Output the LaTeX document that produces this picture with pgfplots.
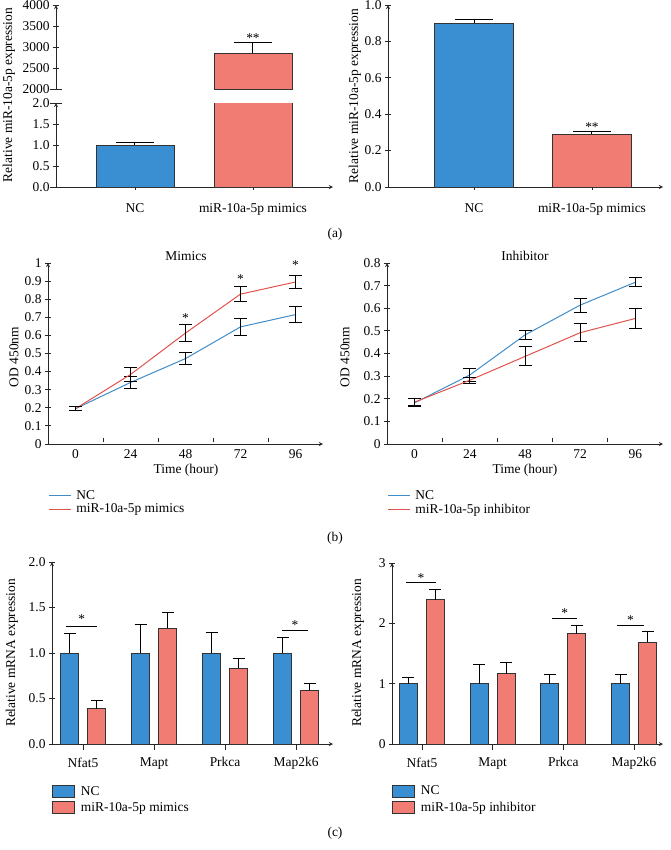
\documentclass[border=0pt]{standalone}
\usepackage{pgfplots}
\pgfplotsset{compat=1.18}
\usepackage{fontspec}
\setmainfont{Liberation Serif}
\definecolor{barblue}{HTML}{3A8ED2}
\definecolor{barred}{HTML}{F17C74}
\definecolor{lineblue}{HTML}{3F8CC8}
\definecolor{linered}{HTML}{E0524C}
\definecolor{edge}{HTML}{333333}
\newcommand{\fs}{\fontsize{13.5}{15}\selectfont}
\pgfplotsset{
  base/.style={
    scale only axis, anchor=south west,
    font=\fs,
    /pgf/number format/assume math mode=true,
    axis line style={-, line width=0.9pt, black!85},
    tick style={line width=0.9pt, black!85},
    tick align=outside,
    major tick length=6bp,
    minor tick length=4bp,
    clip mode=individual,
    scaled ticks=false,
  },
  bars/.style={ybar, bar width=#1, draw=edge, line width=0.7pt},
  ebar/.style={error bars/y dir=plus, error bars/y explicit,
    error bars/error bar style={line width=1pt, black},
    error bars/error mark options={rotate=90, mark size=#1, line width=1pt, black}},
  ebl/.style={error bars/y dir=both, error bars/y explicit,
    error bars/error bar style={line width=1pt, black},
    error bars/error mark options={rotate=90, mark size=6.5bp, line width=1pt, black}},
  fix1/.style={yticklabel style={/pgf/number format/.cd, fixed, fixed zerofill, precision=1}},
}
\begin{document}
\begin{tikzpicture}
\path[use as bounding box] (0bp,0bp) rectangle (671bp,-850bp);

% ===== (a) left, upper part =====
\begin{axis}[base, at={(56bp,-89bp)}, width=277bp, height=84bp,
  xmin=-0.669, xmax=1.678, ymin=2000, ymax=4000,
  axis x line=none, axis y line=left,
  ytick={2000,2500,3000,3500,4000},
  yticklabel style={/pgf/number format/1000 sep={}},
  xtick=\empty]
\addplot[bars=78bp, bar shift=0pt, fill=barred, ebar=19bp] coordinates {(1,2850) +- (0,250)};
\node[font=\fs, anchor=base] at (axis cs:1,3100) {**};
\end{axis}
% ===== (a) left, lower part (values above the break are cut at the top) =====
\begin{axis}[base, at={(56bp,-187bp)}, width=277bp, height=84bp,
  xmin=-0.669, xmax=1.678, ymin=0, ymax=2,
  axis x line=bottom, axis y line=left, fix1,
  ytick={0,0.5,1,1.5,2},
  xtick={0,1}, xticklabels={NC, miR-10a-5p mimics},
  xticklabel style={yshift=-10bp}]
\addplot[bars=78bp, bar shift=0pt, fill=barblue, ebar=19bp] coordinates {(0,1.0) +- (0,0.07)};
\addplot[bars=78bp, bar shift=0pt, fill=barred,
  y filter/.code={\pgfmathparse{min(\pgfmathresult,2.3)}}] coordinates {(1,2850)};
\end{axis}
\draw[line width=0.9pt, black!85] (50bp,-89bp) -- (62bp,-89bp);
\draw[line width=0.9pt, black!85] (50bp,-103bp) -- (62bp,-103bp);
\draw[line width=0.9pt, black!85] (50bp,-187bp) -- (56bp,-187bp);
\node[rotate=90, font=\fs] at (9bp,-95bp) {Relative miR-10a-5p expression};

% ===== (a) right =====
\begin{axis}[base, at={(388bp,-187bp)}, width=275bp, height=182bp,
  xmin=-0.729, xmax=1.602, ymin=0, ymax=1,
  axis x line=bottom, axis y line=left, fix1,
  ytick={0,0.2,0.4,0.6,0.8,1},
  xtick={0,1}, xticklabels={NC, miR-10a-5p mimics},
  xticklabel style={yshift=-10bp}]
\addplot[bars=79bp, bar shift=0pt, fill=barblue, ebar=19bp] coordinates {(0,0.9) +- (0,0.02)};
\addplot[bars=79bp, bar shift=0pt, fill=barred, ebar=19bp] coordinates {(1,0.29) +- (0,0.015)};
\node[font=\fs, anchor=base] at (axis cs:1,0.305) {**};
\end{axis}
\node[rotate=90, font=\fs] at (355bp,-96bp) {Relative miR-10a-5p expression};
\node[font=\fs] at (335bp,-234bp) {(a)};

% ===== (b) left =====
\begin{axis}[base, at={(48bp,-444bp)}, width=275bp, height=181bp,
  xmin=-12, xmax=108, ymin=0, ymax=1,
  axis x line=bottom, axis y line=left,
  ytick={0,0.1,...,1.01},
  xtick={0,24,48,72,96}, minor xtick={12,36,60,84},
  major x tick style={draw=none},
  minor x tick style={yshift=4bp},
  xticklabel style={yshift=1bp},
  legend style={at={(0,-0.245)}, anchor=north west, draw=none, fill=none,
    inner sep=0pt, row sep=-1bp, font=\fs},
  legend cell align=left,
  legend image code/.code={\draw[#1] (0bp,0bp) -- (22bp,0bp); \path (25bp,0bp);}]
\addplot[lineblue, line width=1pt, mark=none, ebl, forget plot] coordinates {
 (0,0.195) +- (0,0.01) (24,0.34) +- (0,0.034) (48,0.472) +- (0,0.032)
 (72,0.647) +- (0,0.048) (96,0.715) +- (0,0.043)};
\addplot[linered, line width=1pt, mark=none, ebl, forget plot] coordinates {
 (0,0.195) +- (0,0.01) (24,0.384) +- (0,0.038) (48,0.613) +- (0,0.047)
 (72,0.828) +- (0,0.042) (96,0.895) +- (0,0.034)};
\addlegendimage{draw=lineblue, line width=1.2pt}
\addlegendentry{NC}
\addlegendimage{draw=linered, line width=1.2pt}
\addlegendentry{miR-10a-5p mimics}
\node[font=\fs, yshift=-2bp] at (axis cs:48,0.707) {*};
\node[font=\fs, yshift=-2bp] at (axis cs:72,0.923) {*};
\node[font=\fs, yshift=-2bp] at (axis cs:96,0.998) {*};
\end{axis}
\node[font=\fs] at (186bp,-256bp) {Mimics};
\node[font=\fs, anchor=base, inner sep=0pt] at (186bp,-473.5bp) {Time (hour)};
\node[rotate=90, font=\fs] at (14bp,-357bp) {OD 450nm};

% ===== (b) right =====
\begin{axis}[base, at={(387bp,-444bp)}, width=276bp, height=181bp,
  xmin=-12, xmax=108, ymin=0, ymax=0.8,
  axis x line=bottom, axis y line=left,
  ytick={0,0.1,...,0.81},
  xtick={0,24,48,72,96}, minor xtick={12,36,60,84},
  major x tick style={draw=none},
  minor x tick style={yshift=4bp},
  xticklabel style={yshift=1bp},
  legend style={at={(0,-0.245)}, anchor=north west, draw=none, fill=none,
    inner sep=0pt, row sep=-1bp, font=\fs},
  legend cell align=left,
  legend image code/.code={\draw[#1] (0bp,0bp) -- (22bp,0bp); \path (25bp,0bp);}]
\addplot[lineblue, line width=1pt, mark=none, ebl, forget plot] coordinates {
 (0,0.182) +- (0,0.018) (24,0.305) +- (0,0.03) (48,0.482) +- (0,0.018)
 (72,0.614) +- (0,0.031) (96,0.715) +- (0,0.021)};
\addplot[linered, line width=1pt, mark=none, ebl, forget plot] coordinates {
 (0,0.185) +- (0,0.015) (24,0.282) +- (0,0.013) (48,0.387) +- (0,0.042)
 (72,0.492) +- (0,0.041) (96,0.555) +- (0,0.046)};
\addlegendimage{draw=lineblue, line width=1.2pt}
\addlegendentry{NC}
\addlegendimage{draw=linered, line width=1.2pt}
\addlegendentry{miR-10a-5p inhibitor}
\end{axis}
\node[font=\fs] at (525bp,-256bp) {Inhibitor};
\node[font=\fs, anchor=base, inner sep=0pt] at (525bp,-473.5bp) {Time (hour)};
\node[rotate=90, font=\fs] at (345bp,-357bp) {OD 450nm};
\node[font=\fs] at (335bp,-538bp) {(b)};

% ===== (c) left =====
\begin{axis}[base, at={(52bp,-744bp)}, width=281bp, height=182bp,
  xmin=-0.437, xmax=3.52, ymin=0, ymax=2,
  axis x line=bottom, axis y line=left, fix1,
  ytick={0,0.5,1,1.5,2},
  xtick={0,1,2,3}, xticklabels={Nfat5, Mapt, Prkca, Map2k6},
  xticklabel style={yshift=-4bp},
  ybar=9bp,
  legend style={at={(0,-0.22)}, anchor=north west, draw=none, fill=none,
    inner sep=0pt, row sep=2bp, font=\fs},
  legend cell align=left,
  legend image code/.code={\draw[#1, draw=edge, line width=0.7pt] (0bp,-6bp) rectangle (22bp,6bp); \path (26bp,0bp);}]
\addplot[bars=18bp, fill=barblue, ebar=6bp] coordinates {
 (0,1.0) +- (0,0.21) (1,1.0) +- (0,0.31) (2,1.0) +- (0,0.23) (3,1.0) +- (0,0.17)};
\addplot[bars=18bp, fill=barred, ebar=6bp] coordinates {
 (0,0.39) +- (0,0.085) (1,1.27) +- (0,0.18) (2,0.83) +- (0,0.11) (3,0.59) +- (0,0.08)};
\legend{NC, miR-10a-5p mimics}
\draw[line width=0.8pt, black] (axis cs:-0.24,1.29) -- (axis cs:0.2,1.29);
\node[font=\fs, yshift=-2bp] at (axis cs:-0.02,1.40) {*};
\draw[line width=0.8pt, black] (axis cs:2.803,1.25) -- (axis cs:3.169,1.25);
\node[font=\fs, yshift=-2bp] at (axis cs:2.986,1.33) {*};
\end{axis}
\node[rotate=90, font=\fs] at (12bp,-653bp) {Relative mRNA expression};
\node[font=\fs] at (335bp,-833bp) {(c)};

% ===== (c) right =====
\begin{axis}[base, at={(392bp,-744bp)}, width=271bp, height=181bp,
  xmin=-0.424, xmax=3.41, ymin=0, ymax=3,
  axis x line=bottom, axis y line=left,
  ytick={0,1,2,3},
  xtick={0,1,2,3}, xticklabels={Nfat5, Mapt, Prkca, Map2k6},
  xticklabel style={yshift=-4bp},
  ybar=9bp,
  legend style={at={(0,-0.22)}, anchor=north west, draw=none, fill=none,
    inner sep=0pt, row sep=2bp, font=\fs},
  legend cell align=left,
  legend image code/.code={\draw[#1, draw=edge, line width=0.7pt] (0bp,-6bp) rectangle (22bp,6bp); \path (26bp,0bp);}]
\addplot[bars=18bp, fill=barblue, ebar=6bp] coordinates {
 (0,1.0) +- (0,0.11) (1,1.0) +- (0,0.315) (2,1.0) +- (0,0.155) (3,1.0) +- (0,0.144)};
\addplot[bars=18bp, fill=barred, ebar=6bp] coordinates {
 (0,2.39) +- (0,0.17) (1,1.166) +- (0,0.182) (2,1.83) +- (0,0.137) (3,1.69) +- (0,0.172)};
\legend{NC, miR-10a-5p inhibitor}
\draw[line width=0.8pt, black] (axis cs:-0.226,2.68) -- (axis cs:0.198,2.68);
\node[font=\fs, yshift=-2bp] at (axis cs:-0.014,2.78) {*};
\draw[line width=0.8pt, black] (axis cs:1.844,2.09) -- (axis cs:2.198,2.09);
\node[font=\fs, yshift=-2bp] at (axis cs:2.02,2.2) {*};
\draw[line width=0.8pt, black] (axis cs:2.76,1.96) -- (axis cs:3.14,1.96);
\node[font=\fs, yshift=-2bp] at (axis cs:2.95,2.08) {*};
\end{axis}
\node[rotate=90, font=\fs] at (358bp,-653bp) {Relative mRNA expression};
\end{tikzpicture}
\end{document}
